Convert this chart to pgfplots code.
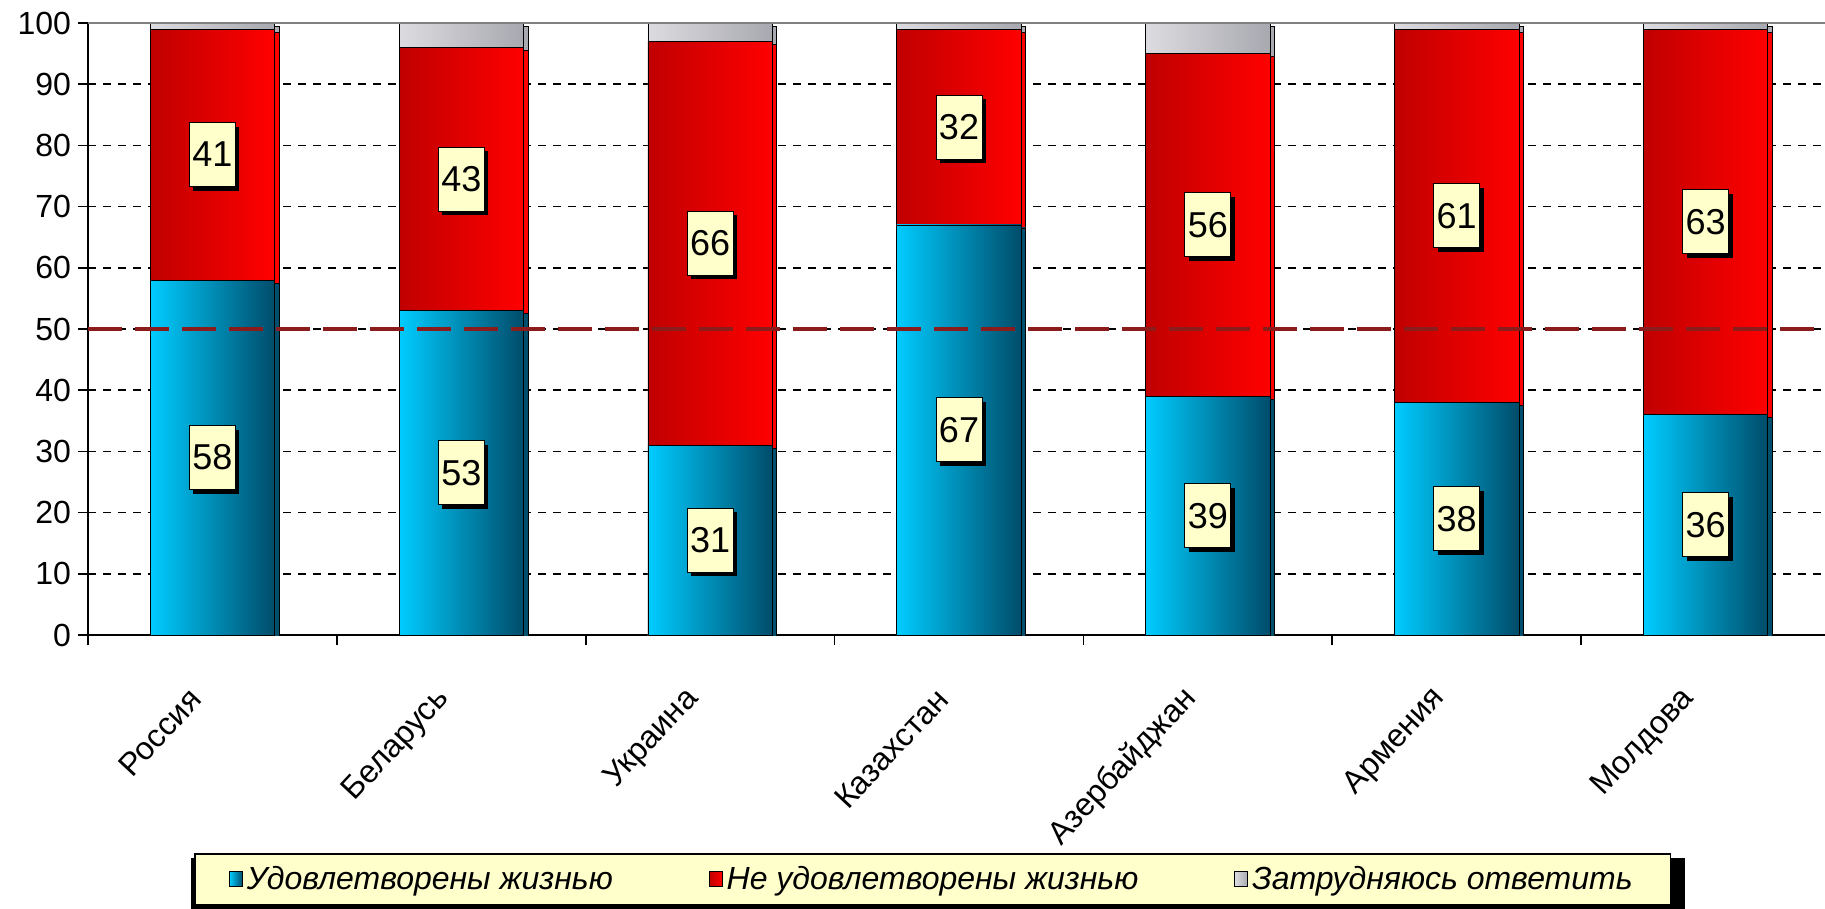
\documentclass[border=0pt]{standalone}
\usepackage{pgfplots}
\pgfplotsset{compat=1.18}
\usepackage{pgfplotstable}
\usepackage{fontspec}
\setmainfont{Liberation Sans}
\usetikzlibrary{shadows}

\definecolor{cyanL}{HTML}{00CCFF}
\definecolor{cyanM}{HTML}{00A4D8}
\definecolor{cyanD}{HTML}{004C6A}
\definecolor{redL}{HTML}{C00000}
\definecolor{redM}{HTML}{EC0000}
\definecolor{redD}{HTML}{FF0000}
\definecolor{grayL}{HTML}{DCDCE0}
\definecolor{grayD}{HTML}{A8A8B0}
\definecolor{paper}{HTML}{FFFFCC}
\definecolor{refline}{HTML}{8B1C1C}

% shares, %
\pgfplotstableread{
x blue red gray
0 58 41 1
1 53 43 4
2 31 66 3
3 67 32 1
4 39 56 5
5 38 61 1
6 36 63 1
}\shares

\pgfplotsset{
  base/.style={
    scale only axis, width=871pt, height=306pt,
    at={(44pt,-317.5pt)}, anchor=south west,
    xmin=-0.5, xmax=6.5, ymin=0, ymax=100,
  },
  bar common/.style={ybar, bar width=0.5, bar shift=0pt, forget plot, draw=black, line width=0.4pt,
    drop shadow={shadow xshift=2.2pt, shadow yshift=-1.5pt, fill=black, opacity=1}},
  bluebar/.style={bar common, left color=cyanL, middle color=cyanM, right color=cyanD},
  redbar/.style={bar common, left color=redL, middle color=redM, right color=redD},
  graybar/.style={bar common, left color=grayL, right color=grayD},
  legend common/.style={
    legend style={at={(0.485,-0.399)}, anchor=center, line width=0.8pt,
      font=\fontsize{16}{19}\selectfont\itshape,
      /tikz/every even column/.append style={column sep=46pt},
      inner xsep=17pt, inner ysep=4pt},
    legend columns=3,
    legend image code/.code={\draw[##1, draw=black, line width=0.4pt] (0pt,-3.8pt) rectangle (6.5pt,3.8pt);},
  },
}

\begin{document}
\begin{tikzpicture}
\begin{axis}[base, legend common,
  legend style={draw=black, fill=black, xshift=2.5pt, yshift=-2.5pt},
  ybar,
  axis x line=bottom, axis y line=left,
  axis line style={-, black, line width=0.8pt},
  ytick={0,10,...,100},
  ymajorgrids, grid style={black, line width=0.8pt, dash pattern=on 4pt off 3.5pt},
  xtick={-0.5,0.5,...,6.5}, xticklabels={},
  extra x ticks={0,...,6},
  extra x tick labels={Россия,Беларусь,Украина,Казахстан,Азербайджан,Армения,Молдова},
  extra x tick style={major tick length=0pt, grid=none},
  tick align=outside, major tick length=5pt,
  tick style={black, line width=0.8pt},
  yticklabel style={font=\fontsize{16}{19}\selectfont, /pgf/number format/assume math mode=true},
  xticklabel style={font=\fontsize{16}{19}\selectfont, rotate=47, anchor=east, inner sep=0pt,
    xshift=-27pt, yshift=-14pt},
]
\pgfplotsinvokeforeach{0,...,6}{
  \addplot[graybar, restrict x to domain=#1:#1]
    table[x=x, y expr=\thisrow{blue}+\thisrow{red}+\thisrow{gray}] {\shares};
  \addplot[redbar, restrict x to domain=#1:#1]
    table[x=x, y expr=\thisrow{blue}+\thisrow{red}] {\shares};
  \addplot[bluebar, restrict x to domain=#1:#1]
    table[x=x, y=blue] {\shares};
}
% black copy of the legend box, offset: its shadow
\addlegendimage{fill=black}
\addlegendentry{\phantom{Удовлетворены жизнью}}
\addlegendimage{fill=black}
\addlegendentry{\phantom{Не удовлетворены жизнью}}
\addlegendimage{fill=black}
\addlegendentry{\phantom{Затрудняюсь ответить}}
\end{axis}

\begin{axis}[base, hide axis, clip=false, legend common,
  legend style={draw=black, fill=paper},
]
\addlegendimage{left color=cyanL, right color=cyanD}
\addlegendentry{Удовлетворены жизнью}
\addlegendimage{left color=redL, right color=redD}
\addlegendentry{Не удовлетворены жизнью}
\addlegendimage{left color=grayL, right color=grayD}
\addlegendentry{Затрудняюсь ответить}

\addplot[refline, line width=2pt, dash pattern=on 17pt off 6.5pt, forget plot]
  coordinates {(-0.5,50) (6.5,50)};
\addplot[gray, line width=0.6pt, forget plot]
  coordinates {(-0.5,100) (6.5,100)};
\addplot[draw=none, mark=none, forget plot, point meta=explicit symbolic,
  nodes near coords,
  every node near coord/.style={anchor=center, draw=black, line width=0.5pt, fill=paper,
    font=\fontsize{18}{20}\selectfont, minimum width=23pt, minimum height=32pt, inner sep=1pt,
    drop shadow={shadow xshift=2pt, shadow yshift=-2pt, fill=black, opacity=1}}]
  coordinates {(0,29)[58] (1,26.5)[53] (2,15.5)[31] (3,33.5)[67] (4,19.5)[39] (5,19)[38] (6,18)[36]
               (0,78.5)[41] (1,74.5)[43] (2,64)[66] (3,83)[32] (4,67)[56] (5,68.5)[61] (6,67.5)[63]};
\end{axis}

\pgfresetboundingbox
\path (0,0) rectangle (912.5pt,-454.5pt);
\end{tikzpicture}
\end{document}
